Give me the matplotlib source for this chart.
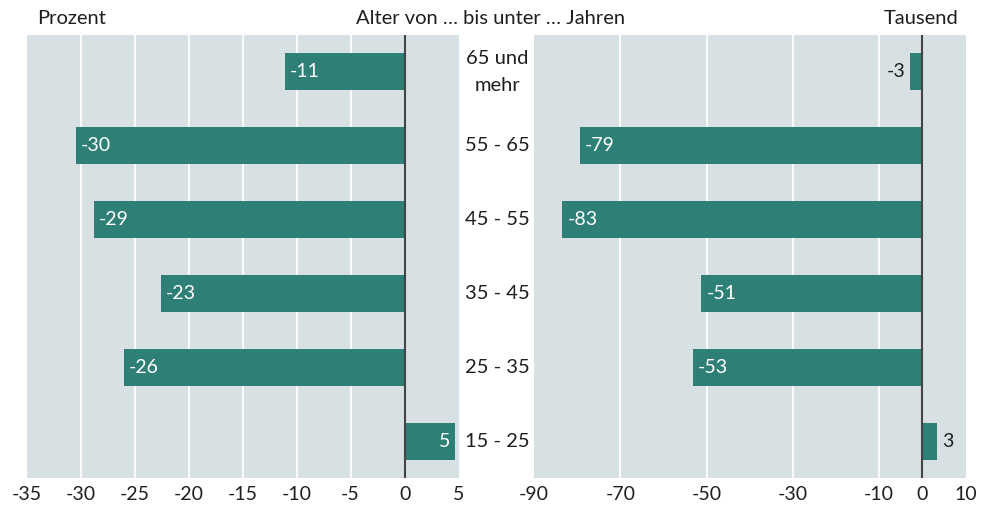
import matplotlib.pyplot as plt

plt.rcParams['font.family'] = ['Lato', 'DejaVu Sans']
plt.rcParams['font.size'] = 14

# Daten
altersgruppen = ["65 und\nmehr", "55 - 65", "45 - 55", "35 - 45", "25 - 35", "15 - 25"]
prozent = [-11.1, -30.45, -28.8, -22.6, -26.0, 4.7]
tausend = [-2.8, -79.4, -83.4, -51.2, -53.2, 3.3]

links_ticks = [-35, -30, -25, -20, -15, -10, -5, 0, 5]
links_grid = [-30, -25, -20, -15, -10, -5]
rechts_ticks = [-90, -70, -50, -30, -10, 0, 10]
rechts_grid = [-70, -50, -30, -10]

hintergrund = '#d7e0e3'
balken_farbe = '#2e7f76'
text_farbe = '#1e1e1e'

fig = plt.figure(figsize=(9.92, 5.09), dpi=100)
ax1 = fig.add_axes([27 / 992, 1 - 478 / 509, 431.5 / 992, 443 / 509])
ax2 = fig.add_axes([534 / 992, 1 - 478 / 509, 431.5 / 992, 443 / 509])


def panel(ax, werte, xlim, ticks, grid, schwelle):
    ax.set_facecolor(hintergrund)
    y = list(range(len(werte)))
    ax.barh(y, werte, height=0.5, color=balken_farbe, zorder=3)
    for g in grid:
        ax.axvline(g, color='white', lw=1.3, zorder=1)
    ax.axvline(0, color='#444444', lw=1.5, zorder=4)
    ax.set_xlim(*xlim)
    ax.set_ylim(len(werte) - 0.5, -0.5)
    ax.set_xticks(ticks)
    ax.set_xticklabels([str(t) for t in ticks])
    ax.set_yticks([])
    ax.tick_params(axis='x', length=0, pad=6, labelsize=14, labelcolor=text_farbe)
    for s in ax.spines.values():
        s.set_visible(False)
    px = (xlim[1] - xlim[0]) / 431.5  # Dateneinheiten pro Pixel
    for yi, v in zip(y, werte):
        txt = f"{round(v):d}"
        if abs(v) >= schwelle:
            # Beschriftung im Balken
            if v < 0:
                ax.text(v + 5 * px, yi, txt, color='white', va='center', ha='left', zorder=5)
            else:
                ax.text(v - 5 * px, yi, txt, color='white', va='center', ha='right', zorder=5)
        else:
            if v < 0:
                ax.text(v - 5 * px, yi, txt, color=text_farbe, va='center', ha='right', zorder=5)
            else:
                ax.text(v + 6 * px, yi, txt, color=text_farbe, va='center', ha='left', zorder=5)


panel(ax1, prozent, (-35, 5), links_ticks, links_grid, 4)
panel(ax2, tausend, (-90, 10), rechts_ticks, rechts_grid, 8)

# Altersgruppen in der Mitte
fig.canvas.draw()
for yi, name in enumerate(altersgruppen):
    yfig = fig.transFigure.inverted().transform(ax1.transData.transform((0, yi)))[1]
    fig.text(497 / 992, yfig, name, ha='center', va='center', fontsize=14.5,
             linespacing=1.7, color=text_farbe)

fig.text(37 / 992, 1 - 18 / 509, "Prozent", ha='left', va='center', fontsize=14.5, color=text_farbe)
fig.text(491 / 992, 1 - 18 / 509, "Alter von … bis unter … Jahren", ha='center', va='center',
         fontsize=14.5, color=text_farbe)
fig.text(958 / 992, 1 - 18 / 509, "Tausend", ha='right', va='center', fontsize=14.5, color=text_farbe)

fig.savefig('out.png', dpi=100)
